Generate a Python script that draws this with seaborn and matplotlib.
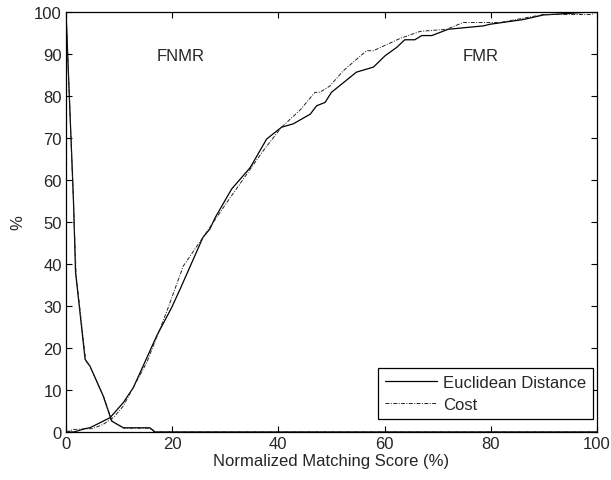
import numpy as np
import pandas as pd
import matplotlib
matplotlib.use("Agg")
import matplotlib.pyplot as plt
import seaborn as sns
from matplotlib.lines import Line2D

# ── data ────────────────────────────────────────────────────────────────
fnmr_ed_x = [0, 1.4, 1.8, 3.6, 4.5, 7.0, 8.6, 10.8, 15.8, 16.8, 100]
fnmr_ed_y = [100, 55.4, 38, 17.3, 15.7, 8.6, 2.6, 1.0, 1.0, 0, 0]
fnmr_cost_x = [0, 1.4, 1.9, 3.7, 4.6, 7.1, 8.7, 10.9, 15.7, 16.7, 100]
fnmr_cost_y = [100, 55.0, 37.5, 17.0, 15.4, 8.4, 2.5, 0.9, 0.9, 0, 0]

fmr_ed_x = [0, 1.5, 3.6, 4.5, 8.3, 10.8, 12.7, 17.1, 19.9, 21.5, 25.8, 27.1,
            28.1, 31.2, 34.7, 37.8, 40.6, 42.8, 46.0, 47.2, 48.8, 50.0,
            54.7, 57.9, 60.1, 62.3, 63.8, 65.7, 67.0, 68.9, 72.0, 78.6, 79.9,
            86.1, 89.9, 95.0, 100]
fmr_ed_y = [0, 0, 0.8, 1.0, 3.4, 7.0, 10.6, 22.9, 29.6, 34.0, 46.3, 48.3,
            51.0, 57.8, 62.9, 69.7, 72.5, 73.3, 75.6, 77.6, 78.4, 80.8,
            85.6, 86.8, 89.5, 91.5, 93.3, 93.3, 94.3, 94.3, 95.8, 96.6, 97.0,
            98.1, 99.2, 99.6, 100]
fmr_cost_x = [0, 1.4, 3.0, 5.0, 7.0, 9.0, 10.8, 15.2, 18.9, 22.1, 25.8,
              30.3, 37.2, 40.6, 44.1, 46.9, 47.8, 49.7, 52.2, 56.6,
              57.9, 62.9, 66.7, 71.7, 74.8, 81.7, 89.9, 99.0, 100]
fmr_cost_y = [0, 0.6, 0.7, 0.8, 1.8, 3.5, 6.2, 16.5, 28.4, 39.5, 46.3,
              54.6, 67.0, 72.5, 76.6, 80.8, 80.8, 82.3, 85.9, 90.7,
              90.7, 93.6, 95.3, 95.8, 97.4, 97.4, 99.3, 99.3, 100]

methods = ["Euclidean Distance", "Cost"]
x_ticks = [0, 20, 40, 60, 80, 100]
y_ticks = list(range(0, 101, 10))

sns.set_theme(style="white")
plt.rcParams["font.family"] = ["Liberation Sans", "DejaVu Sans"]
plt.rcParams["xtick.direction"] = "in"
plt.rcParams["ytick.direction"] = "in"

fig = plt.figure(figsize=(6.11, 4.81), dpi=100)
ax = fig.add_axes([0.108, 0.0998, 0.869, 0.874])

solid = dict(color="black", linewidth=0.9)
dashdot = dict(color="#222222", linewidth=0.7, dashes=(4, 1.5, 1, 1.5))

sns.lineplot(x=fnmr_ed_x, y=fnmr_ed_y, sort=False, estimator=None, ax=ax, **solid)
sns.lineplot(x=fnmr_cost_x, y=fnmr_cost_y, sort=False, estimator=None, ax=ax, **dashdot)
sns.lineplot(x=fmr_ed_x, y=fmr_ed_y, sort=False, estimator=None, ax=ax, **solid)
sns.lineplot(x=fmr_cost_x, y=fmr_cost_y, sort=False, estimator=None, ax=ax, **dashdot)

fs = 12
ax.set_xlim(0, 100)
ax.set_ylim(0, 100)
ax.set_xticks(x_ticks)
ax.set_yticks(y_ticks)
ax.tick_params(axis="both", labelsize=fs, length=4, width=0.8, color="black",
               top=True, right=True, bottom=True, left=True, pad=3)
for s in ax.spines.values():
    s.set_color("black")
    s.set_linewidth(0.9)

ax.set_xlabel("Normalized Matching Score (%)", fontsize=fs, labelpad=1)
ax.set_ylabel("%", fontsize=fs, labelpad=6)

ax.text(21.5, 89.5, "FNMR", fontsize=fs, ha="center", va="center")
ax.text(78, 89.5, "FMR", fontsize=fs, ha="center", va="center")

handles = [Line2D([], [], **solid),
           Line2D([], [], color="#222222", linewidth=0.7, dashes=(4, 1.5, 1, 1.5))]
leg = ax.legend(handles, methods, loc="lower right", bbox_to_anchor=(0.9925, 0.031),
                fontsize=fs, frameon=True, fancybox=False, edgecolor="black",
                framealpha=1, handlelength=3.1, borderaxespad=0, borderpad=0.4,
                labelspacing=0.45, handletextpad=0.4)
leg.get_frame().set_linewidth(0.9)

fig.savefig("out.png", dpi=100)
